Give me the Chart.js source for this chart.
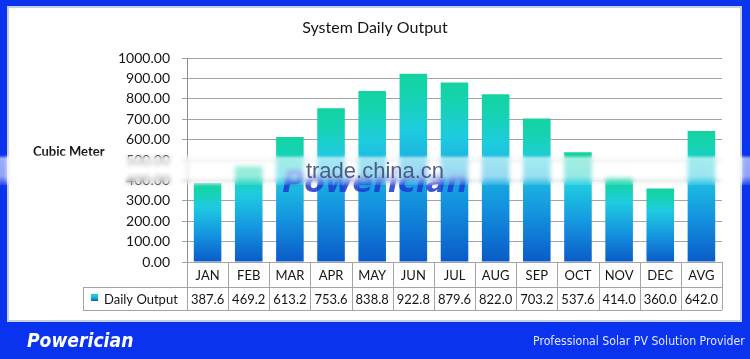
<!DOCTYPE html>
<html>
<head>
<meta charset="utf-8">
<script src="https://cdn.jsdelivr.net/npm/chart.js@4"></script>
<style>
  html, body { margin: 0; padding: 0; }
  body { width: 750px; height: 359px; background: #0a33f0; position: relative; overflow: hidden; }
  #chart { position: absolute; left: 0; top: 0; }
  .banner { position: absolute; color: #fff; white-space: nowrap; transform-origin: 0 50%; }
  #brand { left: 27px; top: 329px; font: italic bold 19px "DejaVu Sans", sans-serif; }
  #slogan { top: 333px; font: 13px "DejaVu Sans Condensed", "DejaVu Sans", sans-serif; color: #e2e8ff; }
</style>
</head>
<body>
<canvas id="chart" width="750" height="359"></canvas>
<span class="banner" id="brand">Powerician</span>
<span class="banner" id="slogan">Professional Solar PV Solution Provider</span>
<script>
const months = ["JAN", "FEB", "MAR", "APR", "MAY", "JUN", "JUL", "AUG", "SEP", "OCT", "NOV", "DEC", "AVG"];
const dailyOutput = [387.6, 469.2, 613.2, 753.6, 838.8, 922.8, 879.6, 822.0, 703.2, 537.6, 414.0, 360.0, 642.0];
const seriesName = "Daily Output";
const chartTitle = "System Daily Output";
const yAxisTitle = "Cubic Meter";
const yMin = 0;
const yMax = 1000;
const yStep = 100;

const canvas = document.getElementById("chart");
const font = "Lato, 'Open Sans', sans-serif";
const lineGray = "#a4a4a4";
const textColor = "#151515";

function barGradient(ctx, top, bottom) {
  const g = ctx.createLinearGradient(0, top, 0, bottom);
  g.addColorStop(0, "#13d3a0");
  g.addColorStop(0.12, "#16d3b2");
  g.addColorStop(0.3, "#1fcbe0");
  g.addColorStop(0.65, "#1495e0");
  g.addColorStop(1, "#0a5bc8");
  return g;
}

// white panel behind the chart
const panelPlugin = {
  id: "panel",
  beforeDraw(chart) {
    const ctx = chart.ctx;
    ctx.save();
    ctx.fillStyle = "#c7cfe2";
    ctx.fillRect(7, 6, 735, 316);
    ctx.fillStyle = "#ffffff";
    ctx.fillRect(9, 8, 731, 312);
    ctx.restore();
  }
};

// title, axis name and the data table under the bars
const tablePlugin = {
  id: "dataTable",
  afterDraw(chart) {
    const ctx = chart.ctx;
    const area = chart.chartArea;
    const x = chart.scales.x;
    const colW = (area.right - area.left) / months.length;
    const row1 = area.bottom;
    const row2 = row1 + 25;
    const row3 = row2 + 23;
    const legendLeft = 83;

    ctx.save();
    ctx.fillStyle = textColor;
    ctx.textBaseline = "middle";
    ctx.textAlign = "center";
    ctx.font = "16px " + font;
    ctx.fillText(chartTitle, 375, 28);

    ctx.textAlign = "left";
    ctx.font = "bold 13px " + font;
    ctx.fillText(yAxisTitle, 33, 152);

    ctx.strokeStyle = lineGray;
    ctx.lineWidth = 1;
    ctx.beginPath();
    ctx.moveTo(legendLeft, row2 + 0.5);
    ctx.lineTo(area.right, row2 + 0.5);
    ctx.moveTo(legendLeft, row3 + 0.5);
    ctx.lineTo(area.right, row3 + 0.5);
    ctx.moveTo(legendLeft + 0.5, row2);
    ctx.lineTo(legendLeft + 0.5, row3);
    for (let i = 0; i <= months.length; i++) {
      const px = Math.round(area.left + i * colW) + 0.5;
      ctx.moveTo(px, row1);
      ctx.lineTo(px, row3);
    }
    ctx.stroke();

    ctx.font = "13px " + font;
    ctx.textAlign = "center";
    months.forEach((m, i) => {
      const cx = x.getPixelForValue(i);
      ctx.fillText(m, cx, (row1 + row2) / 2 + 1);
      ctx.fillText(dailyOutput[i].toFixed(1), cx, (row2 + row3) / 2 + 1);
    });

    ctx.fillStyle = barGradient(ctx, row2 + 7, row2 + 14);
    ctx.fillRect(91, row2 + 7, 7, 7);
    ctx.fillStyle = textColor;
    ctx.textAlign = "left";
    ctx.fillText(seriesName, 104, (row2 + row3) / 2 + 1);
    ctx.restore();
  }
};

// the site watermark band across the middle
const watermarkPlugin = {
  id: "watermark",
  afterDraw(chart) {
    const ctx = chart.ctx;
    const top = 157, h = 26;
    ctx.save();
    ctx.textAlign = "center";
    ctx.textBaseline = "alphabetic";
    ctx.font = "italic bold 30px 'DejaVu Sans', sans-serif";
    ctx.fillStyle = "rgba(28, 58, 210, 0.85)";
    ctx.fillText("Powerician", 375, 192);

    ctx.filter = "blur(2px)";
    ctx.drawImage(canvas, 0, top, 750, h, 0, top, 750, h);
    ctx.filter = "none";
    const g = ctx.createLinearGradient(0, top - 2, 0, top + h + 2);
    g.addColorStop(0, "rgba(255,255,255,0)");
    g.addColorStop(0.12, "rgba(255,255,255,0.6)");
    g.addColorStop(0.7, "rgba(255,255,255,0.55)");
    g.addColorStop(1, "rgba(255,255,255,0.1)");
    ctx.fillStyle = g;
    ctx.fillRect(0, top - 2, 750, h + 4);

    ctx.textBaseline = "middle";
    ctx.font = "22px 'Liberation Sans', Arial, sans-serif";
    ctx.fillStyle = "rgba(66, 78, 120, 0.9)";
    ctx.fillText("trade.china.cn", 375, 172);
    ctx.restore();
  }
};

new Chart(canvas, {
  type: "bar",
  data: {
    labels: months,
    datasets: [{
      label: seriesName,
      data: dailyOutput,
      barPercentage: 0.67,
      categoryPercentage: 1.0,
      borderWidth: 0,
      backgroundColor: (c) => {
        const area = c.chart.chartArea;
        if (!area || c.raw === undefined) return "#1fb0e0";
        const top = c.chart.scales.y.getPixelForValue(c.raw);
        return barGradient(c.chart.ctx, top, area.bottom);
      }
    }]
  },
  options: {
    responsive: false,
    animation: false,
    events: [],
    layout: { padding: { left: 110, right: 28, top: 58, bottom: 97 } },
    plugins: {
      legend: { display: false },
      title: { display: false },
      tooltip: { enabled: false }
    },
    scales: {
      x: { display: false },
      y: {
        min: yMin,
        max: yMax,
        afterFit: (axis) => { axis.width = 77; },
        ticks: {
          stepSize: yStep,
          padding: 12,
          color: textColor,
          font: { family: font, size: 14 },
          callback: (v) => Number(v).toFixed(2)
        },
        grid: { color: lineGray, lineWidth: 1, tickLength: 5 },
        border: { color: "#8c8c8c" }
      }
    }
  },
  plugins: [panelPlugin, tablePlugin, watermarkPlugin]
});

function fitBanner(id, left, width) {
  const el = document.getElementById(id);
  const w = el.offsetWidth;
  el.style.left = left + "px";
  el.style.transform = "scaleX(" + (width / w) + ")";
}
fitBanner("brand", 27, 106);
fitBanner("slogan", 533, 212);
</script>
</body>
</html>
